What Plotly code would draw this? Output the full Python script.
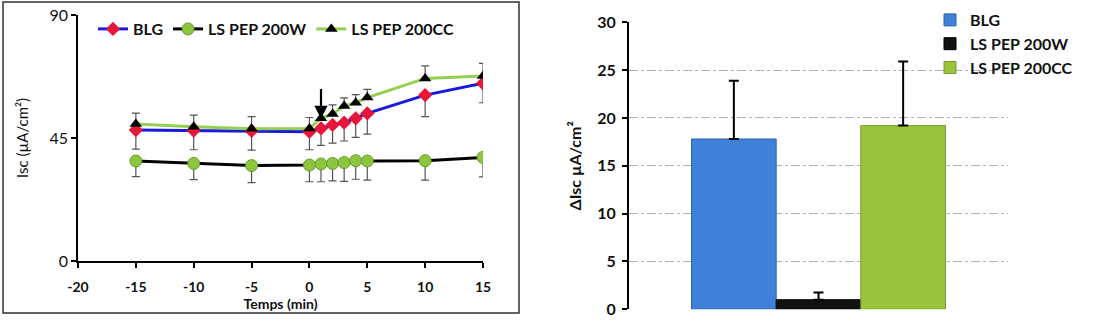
import plotly.graph_objects as go

# ---------------- data ----------------
times = [-15, -10, -5, 0, 1, 2, 3, 4, 5, 10, 15]

blg = [47.9, 47.7, 47.6, 47.3, 48.5, 49.8, 50.6, 52.2, 54.0, 60.7, 65.0]
blg_err = [7.0, 7.0, 7.0, 6.6, 6.2, 6.7, 6.7, 7.0, 7.6, 7.9, 7.1]

w200 = [36.6, 35.7, 34.9, 35.1, 35.5, 35.7, 36.0, 36.7, 36.6, 36.7, 37.9]
w200_err = [5.7, 5.9, 6.2, 6.1, 6.5, 6.4, 6.9, 6.8, 7.0, 7.1, 7.1]

cc200 = [50.1, 49.1, 48.4, 48.5, 52.2, 53.8, 56.7, 57.9, 59.8, 66.8, 67.7]
cc200_err = [4.0, 4.3, 4.4, 4.0, 4.0, 3.3, 3.0, 3.0, 3.0, 4.6, 4.6]

series_names = ["BLG", "LS PEP 200W", "LS PEP 200CC"]
delta_isc = [17.8, 1.0, 19.2]
delta_err = [6.1, 0.75, 6.7]

x_ticks = [-20, -15, -10, -5, 0, 5, 10, 15]
x_tick_labels = ["-20", "-15", "-10", "-5", "0", "5", "10", "15"]
y_ticks_left = [0, 45, 90]
y_ticks_right = [0, 5, 10, 15, 20, 25, 30]

arrow_time = 1
arrow_from = 63.5
arrow_to = 52.0

FONT = "Lato"
W, H = 1097, 323

fig = go.Figure()

# ---------------- left: time course ----------------
err_style = dict(type="data", symmetric=False, color="#555555", thickness=1.2, width=4)

fig.add_trace(go.Scatter(
    x=times, y=blg, name="BLG", mode="lines+markers",
    line=dict(color="#1a1adb", width=3),
    marker=dict(symbol="diamond", size=11, color="#e8173a"),
    error_y=dict(array=[0] * len(blg), arrayminus=blg_err, **err_style),
    xaxis="x", yaxis="y", legend="legend",
))
fig.add_trace(go.Scatter(
    x=times, y=w200, name="LS PEP 200W", mode="lines+markers",
    line=dict(color="#000000", width=3),
    marker=dict(symbol="circle", size=12, color="#8cc63f",
                line=dict(color="#6a9a2a", width=1)),
    error_y=dict(array=[0] * len(w200), arrayminus=w200_err, **err_style),
    xaxis="x", yaxis="y", legend="legend",
))
fig.add_trace(go.Scatter(
    x=times, y=cc200, name="LS PEP 200CC", mode="lines+markers",
    line=dict(color="#92d050", width=3),
    marker=dict(symbol="triangle-up", size=11, color="#000000"),
    error_y=dict(array=cc200_err, arrayminus=[0] * len(cc200), **err_style),
    xaxis="x", yaxis="y", legend="legend",
))

# ---------------- right: bars ----------------
bar_colors = ["#3f80d8", "#111111", "#9ac43d"]
bar_lines = ["#2f63a8", "#000000", "#78992c"]
for name, v, e, c, lc in zip(series_names, delta_isc, delta_err, bar_colors, bar_lines):
    fig.add_trace(go.Bar(
        x=[""], y=[v], name=name,
        marker=dict(color=c, line=dict(color=lc, width=1)),
        error_y=dict(type="data", symmetric=False, array=[e], arrayminus=[0],
                     color="#000000", thickness=2, width=5),
        xaxis="x2", yaxis="y2", legend="legend2",
    ))

fig.update_layout(
    width=W, height=H,
    margin=dict(l=0, r=0, t=0, b=0),
    paper_bgcolor="white", plot_bgcolor="white",
    font=dict(family=FONT, color="#111111"),
    barmode="group", bargap=0.33, bargroupgap=0,
    xaxis=dict(
        domain=[78 / W, 483 / W], range=[-20, 15], automargin=False,
        tickvals=x_ticks, ticktext=x_tick_labels, ticks="outside", ticklen=5, tickwidth=1.5,
        tickcolor="#000", ticklabelstandoff=7,
        showline=True, linecolor="#000", linewidth=1.5, showgrid=False, zeroline=False,
        tickfont=dict(size=14, family=FONT, weight="bold"),
        title=dict(text="Temps (min)", font=dict(size=14, family=FONT, weight="bold"), standoff=0),
    ),
    yaxis=dict(
        domain=[(H - 261) / H, (H - 15) / H], range=[0, 90], automargin=False,
        tickvals=y_ticks_left, ticks="outside", ticklen=5, tickwidth=1.5, tickcolor="#000",
        showline=True, linecolor="#000", linewidth=1.5, showgrid=False, zeroline=False,
        tickfont=dict(size=16, family=FONT),
        title=dict(text="Isc (µA/cm²)", font=dict(size=15, family=FONT), standoff=17),
    ),
    xaxis2=dict(
        domain=[629 / W, 1008 / W], showline=False, showticklabels=False, automargin=False,
        ticks="", showgrid=False, zeroline=False, anchor="y2",
    ),
    yaxis2=dict(
        domain=[(H - 309.3) / H, (H - 22.3) / H], range=[0, 30], anchor="x2", automargin=False,
        tickvals=y_ticks_right, ticks="outside", ticklen=5, tickwidth=2, tickcolor="#000",
        ticklabelstandoff=3,
        showline=True, linecolor="#000", linewidth=2, zeroline=False,
        showgrid=True, gridcolor="#b0b0b0", griddash="dashdot", gridwidth=1,
        tickfont=dict(size=16, family=FONT, weight="bold"),
        title=dict(text="ΔIsc µA/cm²", font=dict(size=16, family=FONT, weight="bold"), standoff=12),
    ),
    legend=dict(
        orientation="h", x=93 / W, xanchor="left", y=(H - 29) / H, yanchor="middle",
        font=dict(size=16, family=FONT, weight="bold", color="#111"),
        bgcolor="rgba(0,0,0,0)", itemwidth=30,
    ),
    legend2=dict(
        orientation="v", x=930 / W, xanchor="left", y=(H - 3) / H, yanchor="top",
        font=dict(size=16, family=FONT, weight="bold", color="#111"),
        bgcolor="rgba(0,0,0,0)", itemwidth=30,
    ),
    shapes=[dict(type="rect", xref="paper", yref="paper",
                 x0=3 / W, x1=519 / W, y0=(H - 313) / H, y1=(H - 2) / H,
                 line=dict(color="#333333", width=1.5), fillcolor="rgba(0,0,0,0)")],
    annotations=[dict(
        x=arrow_time, y=arrow_to, ax=arrow_time, ay=arrow_from,
        xref="x", yref="y", axref="x", ayref="y",
        showarrow=True, arrowhead=2, arrowsize=1.2, arrowwidth=2.2, arrowcolor="#000", text="",
    )],
)

fig.write_html("out.html", config={"displayModeBar": False},
               post_script="document.body.style.margin='0';")
